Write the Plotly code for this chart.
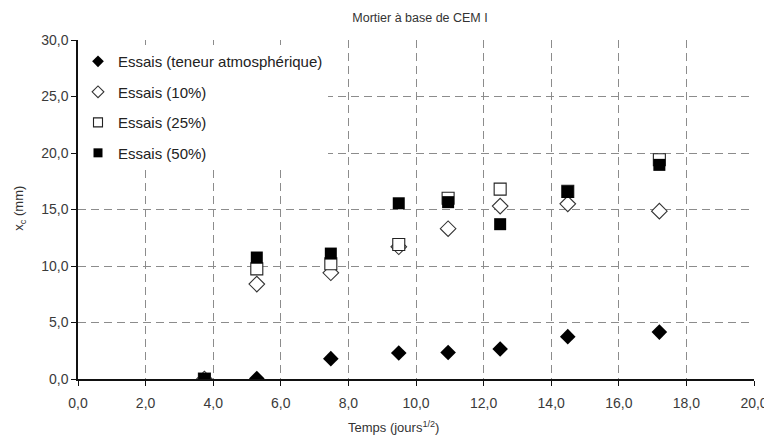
import plotly.graph_objects as go

temps = [3.74, 5.29, 7.48, 9.49, 10.95, 12.49, 14.49, 17.2]
atm = [0.0, 0.05, 1.8, 2.3, 2.35, 2.65, 3.75, 4.15]
c10 = [0.0, 8.4, 9.4, 11.7, 13.3, 15.3, 15.5, 14.85]
c25 = [0.0, 9.75, 10.2, 11.9, 16.0, 16.8, 16.6, 19.4]
c50 = [0.0, 10.75, 11.1, 15.55, 15.65, 13.7, 16.55, 18.95]

x_ticks = [0, 2, 4, 6, 8, 10, 12, 14, 16, 18, 20]
y_ticks = [0, 5, 10, 15, 20, 25, 30]

names = ["Essais (teneur atmosphérique)", "Essais (10%)", "Essais (25%)", "Essais (50%)"]

FONT = "Liberation Sans, Arial, sans-serif"
W, H = 764, 434  # page body has an 8px margin

def marker_for(i, size):
    if i == 0:
        return dict(symbol="diamond", size=size, color="black", line=dict(width=0))
    if i == 1:
        return dict(symbol="diamond", size=size, color="white",
                    line=dict(color="#333333", width=1.1))
    if i == 2:
        return dict(symbol="square", size=size, color="white",
                    line=dict(color="#222222", width=1.1))
    return dict(symbol="square", size=size, color="black", line=dict(width=0))

fig = go.Figure()
for i, ys in enumerate([atm, c10, c25, c50]):
    fig.add_trace(go.Scatter(x=temps, y=ys, mode="markers", name=names[i],
                             showlegend=False, marker=marker_for(i, 12)))
# legend entries (smaller symbols like the reference)
for i in range(4):
    fig.add_trace(go.Scatter(x=[None], y=[None], mode="markers", name=names[i],
                             legendgroup=str(i), showlegend=True,
                             marker=marker_for(i, 9)))

fig.update_layout(
    width=W, height=H,
    margin=dict(l=69.5, r=17.5, t=31.5, b=62.7, autoexpand=False),
    paper_bgcolor="white", plot_bgcolor="white",
    separators=", ",
    font=dict(family=FONT, size=12, color="#333333"),
    title=dict(text="Mortier à base de CEM I", x=412 / W, xanchor="center",
               y=1 - 10 / H, yanchor="middle",
               font=dict(family=FONT, size=12.5, color="#333333")),
    showlegend=True,
    legend=dict(x=0.0, y=0.985, xanchor="left", yanchor="top",
                bgcolor="white", borderwidth=0, tracegroupgap=8,
                font=dict(family=FONT, size=15, color="#222222")),
    xaxis=dict(range=[0, 20], tickvals=x_ticks, tickformat=".1f",
               showline=True, linecolor="#111111", linewidth=1.5,
               ticks="outside", ticklen=5, tickcolor="#111111",
               ticklabelstandoff=5,
               showgrid=True, gridcolor="#8c8c8c", griddash="8px,5px", gridwidth=1,
               zeroline=False,
               tickfont=dict(family=FONT, size=14, color="#3a3a3a")),
    yaxis=dict(range=[0, 30], tickvals=y_ticks, tickformat=".1f",
               showline=True, linecolor="#111111", linewidth=1.5,
               ticks="outside", ticklen=5, tickcolor="#111111",
               showgrid=True, gridcolor="#8c8c8c", griddash="8px,5px", gridwidth=1,
               zeroline=False,
               tickfont=dict(family=FONT, size=14, color="#3a3a3a")),
    annotations=[
        dict(text="Temps (jours<sup>1/2</sup>)", xref="paper", yref="paper",
             x=(393 - 77.5) / 677, y=-(427 - 379.3) / 339.8,
             xanchor="center", yanchor="middle", showarrow=False,
             font=dict(family=FONT, size=13, color="#333333")),
        dict(text="x<sub>c</sub> (mm)", xref="paper", yref="paper",
             x=-(77.5 - 19) / 677, y=(379.3 - 208) / 339.8, textangle=-90,
             xanchor="center", yanchor="middle", showarrow=False,
             font=dict(family=FONT, size=13, color="#333333")),
    ],
)

fig.write_html("out.html")
